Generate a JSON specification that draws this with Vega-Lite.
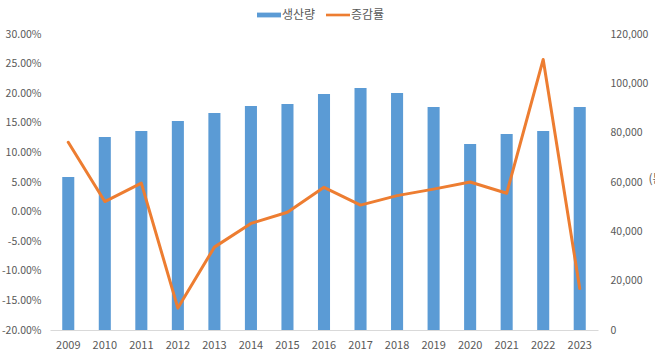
{
  "$schema": "https://vega.github.io/schema/vega-lite/v6.json",
  "width": 548,
  "height": 296,
  "autosize": {"type": "none"},
  "padding": {"left": 50, "top": 34, "right": 57, "bottom": 24},
  "background": "white",
  "config": {
    "view": {"stroke": null},
    "font": "Noto Sans CJK KR",
    "axis": {"labelFont": "Noto Sans CJK KR", "labelFontSize": 10.5, "labelColor": "#595959", "grid": false, "ticks": false}
  },
  "data": {
    "values": [
      {"year": "2009", "prod": 62000, "rate": 0.117},
      {"year": "2010", "prod": 78200, "rate": 0.017},
      {"year": "2011", "prod": 80700, "rate": 0.048},
      {"year": "2012", "prod": 84700, "rate": -0.163},
      {"year": "2013", "prod": 88000, "rate": -0.060},
      {"year": "2014", "prod": 90800, "rate": -0.020},
      {"year": "2015", "prod": 91600, "rate": -0.001},
      {"year": "2016", "prod": 95700, "rate": 0.041},
      {"year": "2017", "prod": 98100, "rate": 0.011},
      {"year": "2018", "prod": 96100, "rate": 0.027},
      {"year": "2019", "prod": 90400, "rate": 0.038},
      {"year": "2020", "prod": 75400, "rate": 0.050},
      {"year": "2021", "prod": 79500, "rate": 0.031},
      {"year": "2022", "prod": 80700, "rate": 0.257},
      {"year": "2023", "prod": 90400, "rate": -0.130}
    ]
  },
  "encoding": {
    "x": {
      "field": "year",
      "type": "ordinal",
      "scale": {"paddingInner": 0, "paddingOuter": 0},
      "axis": {"title": null, "labelAngle": 0, "domainColor": "#D9D9D9", "domainWidth": 1, "labelPadding": 9, "labelFontSize": 11}
    }
  },
  "layer": [
    {
      "mark": {"type": "bar", "width": {"band": 0.33}},
      "encoding": {
        "y": {
          "field": "prod",
          "type": "quantitative",
          "scale": {"domain": [0, 120000]},
          "axis": {
            "orient": "right",
            "values": [0, 20000, 40000, 60000, 80000, 100000, 120000],
            "labelExpr": "format(datum.value, ',')",
            "domain": false,
            "labelPadding": 12,
            "title": "(톤)",
            "titleAngle": 0,
            "titleX": 50,
            "titleY": 144,
            "titleAlign": "left",
            "titleBaseline": "middle",
            "titleFontSize": 12,
            "titleFontWeight": "normal",
            "titleColor": "#595959"
          }
        },
        "color": {
          "datum": "생산량",
          "type": "nominal",
          "scale": {"domain": ["생산량", "증감률"], "range": ["#5B9BD5", "#ED7D31"]},
          "legend": {
            "title": null,
            "orient": "none",
            "direction": "horizontal",
            "legendX": 207,
            "legendY": -31,
            "padding": 0,
            "symbolSize": 576,
            "labelFont": "Noto Sans CJK KR",
            "labelFontSize": 12,
            "labelColor": "#595959",
            "labelOffset": 1,
            "columnPadding": 10,
            "encode": {
              "symbols": {
                "update": {
                  "shape": {"signal": "datum.value == '생산량' ? 'M-1,-0.2H1V0.2H-1Z' : 'M-1,-0.11H1V0.11H-1Z'"},
                  "fill": {"signal": "datum.value == '생산량' ? '#5B9BD5' : '#ED7D31'"},
                  "stroke": {"value": "transparent"},
                  "strokeWidth": {"value": 0},
                  "opacity": {"value": 1},
                  "fillOpacity": {"value": 1}
                }
              }
            }
          }
        }
      }
    },
    {
      "mark": {"type": "line", "strokeWidth": 3, "strokeJoin": "round", "strokeCap": "round"},
      "encoding": {
        "y": {
          "field": "rate",
          "type": "quantitative",
          "scale": {"domain": [-0.2, 0.3]},
          "axis": {
            "orient": "left",
            "values": [-0.2, -0.15, -0.1, -0.05, 0, 0.05, 0.1, 0.15, 0.2, 0.25, 0.3],
            "labelExpr": "replace(format(datum.value, '.2%'), '−', '-')",
            "domain": false,
            "labelPadding": 9,
            "title": null
          }
        },
        "color": {"datum": "증감률", "type": "nominal"}
      }
    }
  ],
  "resolve": {"scale": {"y": "independent"}}
}
